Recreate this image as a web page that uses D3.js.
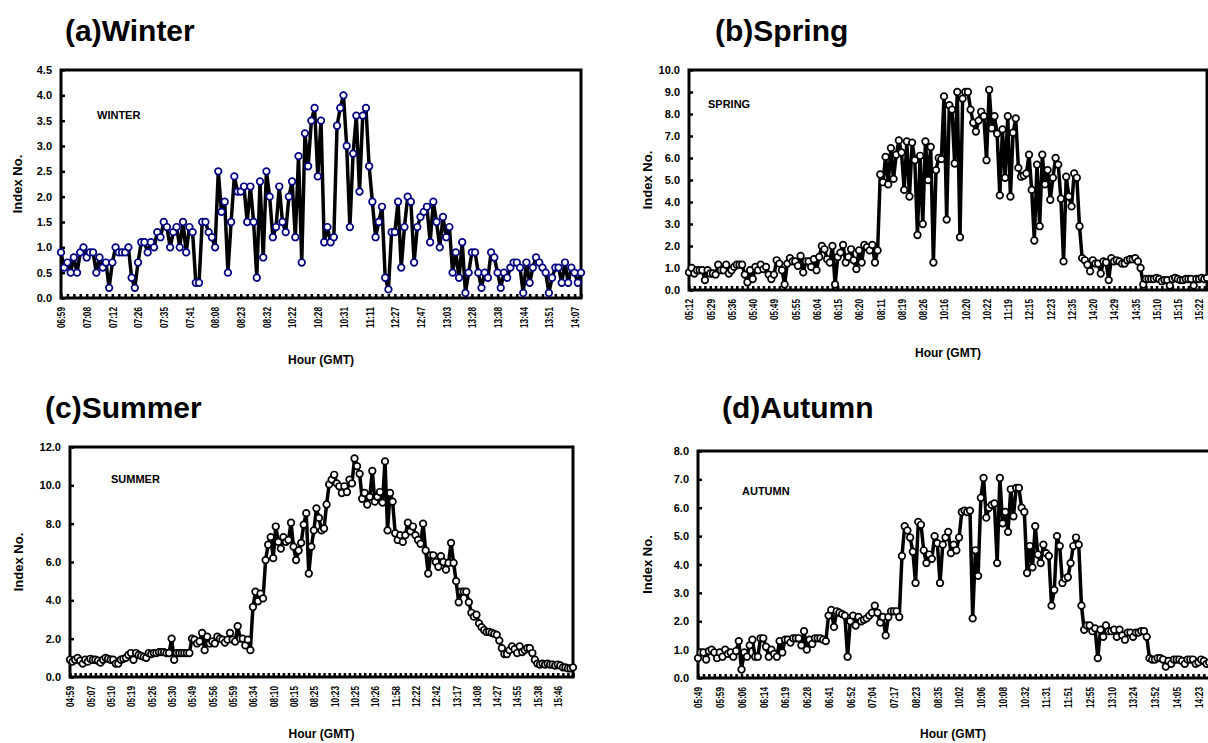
<!DOCTYPE html>
<html>
<head>
<meta charset="utf-8">
<script src="https://cdn.jsdelivr.net/npm/d3@7/dist/d3.min.js"></script>
<style>
  body { margin: 0; background: #fff; }
  svg { display: block; font-family: "Liberation Sans", Arial, sans-serif; font-weight: bold; }
</style>
</head>
<body>
<svg id="chart" width="1208" height="743"></svg>
<script>
"use strict";

// hour labels, one every 8 readings
var winterTimes = [ "06:59", "07:08", "07:12", "07:26", "07:35", "07:41", "08:08", "08:23", "08:32", "10:22", "10:28",
  "10:31", "11:11", "12:27", "12:47", "13:03", "13:28", "13:38", "13:44", "13:51", "14:07" ];
var springTimes = [ "05:12", "05:29", "05:36", "05:40", "05:49", "05:55", "06:04", "06:15", "06:20", "08:11", "08:19",
  "08:26", "10:16", "10:20", "10:22", "11:19", "12:15", "12:23", "12:35", "14:20", "14:29", "14:35", "15:10", "15:15", "15:22" ];
var summerTimes = [ "04:59", "05:07", "05:10", "05:19", "05:26", "05:30", "05:49", "05:56", "05:59", "06:34", "08:10",
  "08:15", "08:25", "10:23", "10:25", "10:26", "11:58", "12:22", "12:42", "13:17", "14:08", "14:27", "14:55", "15:38", "15:46" ];
var autumnTimes = [ "05:49", "05:59", "06:06", "06:14", "06:19", "06:28", "06:41", "06:52", "07:04", "07:17", "08:23",
  "08:35", "10:02", "10:06", "10:08", "10:32", "11:31", "11:51", "12:55", "13:10", "13:24", "13:52", "14:05", "14:23" ];

// index readings
var winterIndex = [
  0.9, 0.6, 0.7, 0.5, 0.8, 0.5, 0.9, 1.0, 0.8, 0.9, 0.9, 0.5, 0.8, 0.6, 0.7, 0.2,
  0.7, 1.0, 0.9, 0.9, 0.9, 1.0, 0.4, 0.2, 0.7, 1.1, 1.1, 0.9, 1.1, 1.0, 1.3, 1.2,
  1.5, 1.4, 1.0, 1.3, 1.4, 1.0, 1.5, 0.9, 1.4, 1.3, 0.3, 0.3, 1.5, 1.5, 1.3, 1.2,
  1.0, 2.5, 1.7, 1.9, 0.5, 1.5, 2.4, 2.1, 2.1, 2.2, 1.5, 2.2, 1.5, 0.4, 2.3, 0.8,
  2.5, 2.0, 1.2, 1.4, 2.2, 1.5, 1.3, 2.0, 2.3, 1.2, 2.8, 0.7, 3.25, 2.6, 3.5, 3.75,
  2.4, 3.5, 1.1, 1.4, 1.1, 1.2, 3.4, 3.75, 4.0, 3.0, 1.4, 2.85, 3.6, 2.1, 3.6, 3.75,
  2.6, 1.9, 1.2, 1.5, 1.8, 0.4, 0.17, 1.3, 1.3, 1.9, 0.6, 1.4, 2.0, 1.9, 0.7, 1.4,
  1.6, 1.7, 1.8, 1.1, 1.9, 1.5, 1.0, 1.6, 1.2, 1.4, 0.5, 0.9, 0.4, 1.1, 0.1, 0.5,
  0.9, 0.9, 0.5, 0.2, 0.5, 0.4, 0.9, 0.8, 0.5, 0.2, 0.5, 0.4, 0.6, 0.7, 0.7, 0.6,
  0.1, 0.7, 0.3, 0.6, 0.8, 0.7, 0.6, 0.5, 0.1, 0.4, 0.6, 0.6, 0.3, 0.7, 0.3, 0.6,
  0.5, 0.3, 0.5 ];
var springIndex = [
  0.8, 1.0, 0.75, 0.9, 0.9, 0.9, 0.45, 0.9, 0.75, 0.75, 0.7, 1.15, 0.9, 0.9, 1.15, 0.75,
  0.9, 1.05, 1.15, 1.15, 1.15, 0.7, 0.35, 0.9, 0.5, 1.05, 0.9, 1.15, 0.95, 1.05, 0.7, 0.5,
  0.7, 1.35, 1.2, 0.9, 0.25, 1.2, 1.45, 1.3, 1.3, 1.1, 1.55, 0.8, 1.3, 1.3, 1.05, 1.4,
  0.9, 1.5, 2.0, 1.85, 1.4, 1.25, 2.0, 0.25, 1.5, 1.7, 2.05, 1.25, 1.5, 1.85, 1.35, 0.95,
  1.8, 1.25, 2.05, 1.95, 1.8, 2.05, 1.25, 1.8, 5.25, 4.9, 6.05, 4.8, 6.45, 5.05, 6.15, 6.8,
  6.25, 4.55, 6.75, 4.25, 6.7, 5.9, 2.5, 6.1, 3.0, 6.75, 5.0, 6.5, 1.25, 5.45, 6.0, 5.95,
  8.8, 3.2, 8.4, 8.2, 5.75, 9.0, 2.4, 8.7, 9.0, 9.0, 8.2, 7.6, 7.2, 7.7, 8.1, 7.9,
  5.9, 9.1, 7.35, 7.9, 7.1, 4.3, 7.3, 5.1, 7.9, 4.25, 7.15, 7.8, 5.55, 5.15, 5.2, 5.3,
  6.15, 4.55, 2.25, 5.7, 2.9, 6.15, 4.8, 5.45, 4.1, 5.1, 6.0, 5.7, 4.15, 1.3, 5.15, 4.25,
  3.8, 5.3, 5.1, 2.9, 1.45, 1.35, 1.15, 0.85, 1.35, 1.2, 1.2, 0.75, 1.3, 1.25, 0.45, 1.45,
  1.3, 1.35, 1.3, 1.2, 1.2, 1.35, 1.4, 1.4, 1.45, 1.3, 1.0, 0.25, 0.5, 0.5, 0.5, 0.5,
  0.55, 0.5, 0.4, 0.45, 0.45, 0.2, 0.5, 0.55, 0.5, 0.45, 0.45, 0.5, 0.5, 0.5, 0.2, 0.5,
  0.5, 0.55, 0.5, 0.55 ];
var summerIndex = [
  0.9, 0.8, 0.9, 1.0, 0.85, 0.7, 0.9, 0.8, 0.95, 0.9, 0.9, 0.85, 0.75, 0.9, 1.0, 0.95,
  0.9, 0.9, 0.7, 0.7, 0.9, 0.95, 1.0, 1.15, 1.25, 0.9, 1.25, 1.15, 1.1, 1.05, 1.0, 1.25,
  1.2, 1.25, 1.25, 1.3, 1.3, 1.3, 1.25, 1.25, 2.0, 0.9, 1.25, 1.25, 1.25, 1.25, 1.25, 1.25,
  2.0, 1.95, 1.75, 1.85, 2.3, 1.4, 2.1, 1.75, 1.85, 1.75, 2.1, 2.0, 1.95, 1.8, 1.95, 2.3,
  1.95, 1.85, 2.65, 2.0, 2.0, 1.65, 1.95, 1.4, 3.65, 4.45, 3.95, 4.35, 4.1, 6.1, 6.9, 7.3,
  6.2, 7.85, 7.05, 6.7, 7.3, 7.05, 7.15, 8.05, 6.8, 6.1, 6.6, 7.0, 7.95, 8.55, 5.4, 6.8,
  7.65, 8.8, 8.3, 7.65, 7.75, 9.0, 10.05, 10.3, 10.55, 10.1, 9.95, 9.6, 9.95, 9.65, 10.3, 10.1,
  11.4, 11.0, 10.6, 9.3, 9.6, 9.0, 9.4, 10.75, 9.15, 9.4, 9.65, 9.1, 11.25, 7.65, 9.6, 9.15,
  7.5, 7.15, 7.4, 7.05, 7.4, 8.05, 7.6, 7.85, 7.4, 7.15, 6.95, 8.0, 6.6, 5.4, 6.35, 6.35,
  6.0, 5.75, 6.3, 6.0, 5.6, 5.95, 7.0, 5.95, 5.0, 3.9, 4.45, 4.45, 4.45, 3.9, 3.35, 3.15,
  3.25, 2.8, 2.6, 2.45, 2.35, 2.35, 2.3, 2.25, 2.2, 1.9, 1.5, 1.2, 1.2, 1.4, 1.6, 1.45,
  1.25, 1.6, 1.3, 1.4, 1.5, 1.5, 1.25, 0.9, 0.7, 0.65, 0.7, 0.65, 0.7, 0.65, 0.65, 0.6,
  0.65, 0.6, 0.5, 0.5, 0.45, 0.45, 0.5 ];
var autumnIndex = [
  0.7, 0.9, 0.9, 0.65, 0.95, 1.0, 0.9, 0.7, 0.9, 0.75, 1.0, 0.85, 0.9, 0.75, 0.95, 1.3,
  0.3, 0.9, 0.75, 1.15, 1.35, 0.75, 0.75, 1.4, 1.4, 1.1, 0.75, 1.0, 0.85, 0.75, 1.3, 0.9,
  1.35, 1.35, 1.25, 1.4, 1.4, 1.4, 1.15, 1.65, 1.0, 1.35, 1.2, 1.4, 1.4, 1.4, 1.35, 1.3,
  2.2, 2.4, 1.8, 2.35, 2.3, 2.25, 2.2, 0.75, 2.0, 2.2, 1.85, 2.15, 2.0, 2.05, 2.1, 2.2,
  2.3, 2.55, 2.3, 1.95, 2.15, 1.5, 2.15, 2.35, 2.35, 2.35, 2.15, 4.3, 5.35, 5.2, 4.95, 4.45,
  3.35, 5.5, 5.4, 4.5, 4.05, 4.35, 4.2, 5.0, 4.75, 3.35, 4.7, 4.95, 5.15, 4.4, 4.7, 4.5,
  4.95, 5.85, 5.9, 5.85, 5.9, 2.1, 4.5, 3.6, 6.35, 7.05, 5.65, 6.0, 6.1, 6.15, 4.05, 7.05,
  5.45, 5.85, 5.15, 6.65, 5.7, 6.7, 6.7, 6.0, 5.85, 3.7, 4.65, 3.9, 5.35, 4.35, 4.05, 4.7,
  4.4, 4.3, 2.55, 3.1, 5.0, 4.65, 3.35, 3.5, 3.55, 4.05, 4.65, 4.95, 4.7, 2.55, 1.7, 1.85,
  1.85, 1.65, 1.75, 0.7, 1.7, 1.45, 1.85, 1.65, 1.65, 1.7, 1.45, 1.7, 1.5, 1.35, 1.6, 1.6,
  1.45, 1.6, 1.6, 1.65, 1.65, 1.45, 0.7, 0.65, 0.65, 0.7, 0.7, 0.65, 0.4, 0.6, 0.5, 0.65,
  0.65, 0.65, 0.6, 0.5, 0.65, 0.65, 0.65, 0.5, 0.55, 0.65, 0.6, 0.5, 0.55, 0.6 ];

var LABEL_EVERY = 8;
var TICK_EVERY = 2;

var panels = [
  { title: "(a)Winter", tag: "WINTER", times: winterTimes, values: winterIndex, yMax: 4.5, yStep: 0.5, dot: "#000080",
    left: 61, top: 70, right: 581, bottom: 298, titleAt: [ 65, 41 ], tagAt: [ 97, 119 ], yTitleX: 22, xTitleY: 364 },
  { title: "(b)Spring", tag: "SPRING", times: springTimes, values: springIndex, yMax: 10, yStep: 1, dot: "#000",
    left: 689, top: 70, right: 1207, bottom: 290, titleAt: [ 715, 41 ], tagAt: [ 708, 108 ], yTitleX: 652, xTitleY: 357 },
  { title: "(c)Summer", tag: "SUMMER", times: summerTimes, values: summerIndex, yMax: 12, yStep: 2, dot: "#000",
    left: 70, top: 447, right: 573, bottom: 677, titleAt: [ 45, 418 ], tagAt: [ 111, 483 ], yTitleX: 23, xTitleY: 738 },
  { title: "(d)Autumn", tag: "AUTUMN", times: autumnTimes, values: autumnIndex, yMax: 8, yStep: 1, dot: "#000",
    left: 698, top: 451, right: 1212, bottom: 678, titleAt: [ 722, 418 ], tagAt: [ 742, 495 ], yTitleX: 652, xTitleY: 738 }
];

var svg = d3.select( "#chart" );
panels.forEach( drawPanel );

function drawPanel( p ) {
  var g = svg.append( "g" );
  var n = p.values.length;
  var x = d3.scaleLinear().domain( [ 0, n - 1 ] ).range( [ p.left, p.right ] );
  var y = d3.scaleLinear().domain( [ 0, p.yMax ] ).range( [ p.bottom, p.top ] );

  // y axis, ticks pointing inwards
  var yTicks = d3.range( 0, p.yMax + 1e-9, p.yStep );
  var ya = g.append( "g" )
    .attr( "transform", "translate(" + p.left + ",0)" )
    .call( d3.axisLeft( y ).tickValues( yTicks ).tickFormat( d3.format( ".1f" ) ).tickSizeInner( -4 ).tickSizeOuter( 0 ).tickPadding( 9 ) );
  styleAxis( ya );
  ya.selectAll( "text" ).style( "font-size", "11px" );

  // x axis: tick every 2 readings, label every 8
  var xTicks = d3.range( 0, n, TICK_EVERY );
  var xa = g.append( "g" )
    .attr( "transform", "translate(0," + p.bottom + ")" )
    .call( d3.axisBottom( x ).tickValues( xTicks ).tickSizeInner( -4 ).tickSizeOuter( 0 )
      .tickFormat( function( i ) {
        return i % LABEL_EVERY === 0 ? p.times[i / LABEL_EVERY] : "";
      } ) );
  styleAxis( xa );
  xa.selectAll( "text" )
    .attr( "transform", "rotate(-90)" )
    .attr( "x", -9 )
    .attr( "y", 0 )
    .attr( "dy", "0.35em" )
    .style( "text-anchor", "end" )
    .style( "font-size", "11px" )
    .filter( function() { return this.textContent !== ""; } )
    .attr( "textLength", 21 )
    .attr( "lengthAdjust", "spacingAndGlyphs" );

  // frame
  g.append( "rect" )
    .attr( "x", p.left )
    .attr( "y", p.top )
    .attr( "width", p.right - p.left )
    .attr( "height", p.bottom - p.top )
    .attr( "fill", "none" )
    .attr( "stroke", "#000" )
    .attr( "stroke-width", 3 );

  var line = d3.line()
    .x( function( d, i ) { return x( i ); } )
    .y( function( d ) { return y( d ); } );

  g.append( "path" )
    .datum( p.values )
    .attr( "d", line )
    .attr( "fill", "none" )
    .attr( "stroke", "#000" )
    .attr( "stroke-width", 3.5 )
    .attr( "stroke-linejoin", "round" );

  g.append( "g" ).selectAll( "circle" )
    .data( p.values )
    .join( "circle" )
    .attr( "cx", function( d, i ) { return x( i ); } )
    .attr( "cy", function( d ) { return y( d ); } )
    .attr( "r", 3.3 )
    .attr( "fill", "#fff" )
    .attr( "stroke", p.dot )
    .attr( "stroke-width", 1.7 );

  // texts
  g.append( "text" )
    .attr( "x", p.titleAt[0] )
    .attr( "y", p.titleAt[1] )
    .style( "font-size", "30px" )
    .text( p.title );

  g.append( "text" )
    .attr( "x", p.tagAt[0] )
    .attr( "y", p.tagAt[1] )
    .style( "font-size", "11px" )
    .text( p.tag );

  g.append( "text" )
    .attr( "transform", "translate(" + p.yTitleX + "," + ( p.top + p.bottom ) / 2 + ") rotate(-90)" )
    .attr( "text-anchor", "middle" )
    .style( "font-size", "13px" )
    .text( "Index No." );

  g.append( "text" )
    .attr( "x", ( p.left + Math.min( p.right, 1208 ) ) / 2 )
    .attr( "y", p.xTitleY )
    .attr( "text-anchor", "middle" )
    .style( "font-size", "12px" )
    .text( "Hour (GMT)" );
}

function styleAxis( sel ) {
  sel.select( ".domain" ).remove();
  sel.selectAll( ".tick line" ).attr( "stroke", "#000" ).attr( "stroke-width", 2.5 );
  sel.selectAll( "text" ).attr( "fill", "#000" ).style( "font-family", "\"Liberation Sans\", Arial, sans-serif" ).style( "font-weight", "bold" );
}
</script>
</body>
</html>
